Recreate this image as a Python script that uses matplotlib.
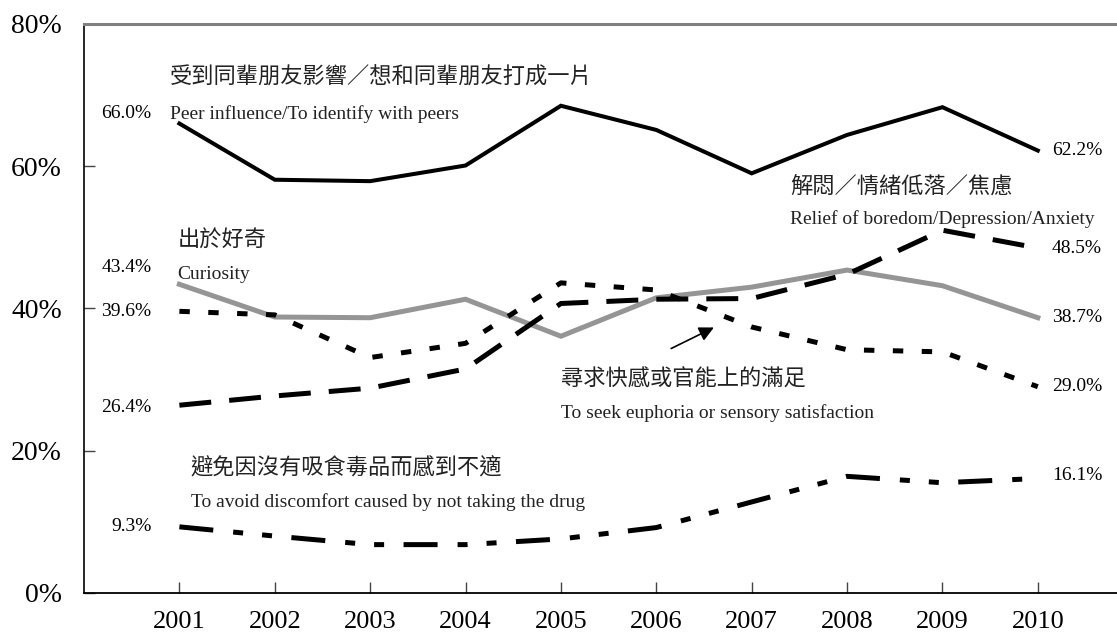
"""drug use motives 2001-2010"""
import matplotlib
matplotlib.use('Agg')
import matplotlib.pyplot as plt

plt.rcParams['font.family'] = ['Liberation Serif', 'Noto Sans CJK TC', 'DejaVu Sans']
plt.rcParams['lines.scale_dashes'] = False

years = [2001, 2002, 2003, 2004, 2005, 2006, 2007, 2008, 2009, 2010]
peer = [66.0, 58.1, 57.9, 60.1, 68.5, 65.1, 59.0, 64.4, 68.3, 62.2]
curiosity = [43.4, 38.8, 38.7, 41.3, 36.1, 41.5, 43.0, 45.4, 43.2, 38.7]
relief = [26.4, 27.7, 28.8, 31.5, 40.7, 41.3, 41.4, 44.8, 51.0, 48.5]
euphoria = [39.6, 39.1, 33.1, 35.1, 43.6, 42.6, 37.4, 34.2, 33.9, 29.0]
avoid = [9.3, 8.0, 6.8, 6.8, 7.6, 9.2, 12.8, 16.4, 15.5, 16.1]

y_ticks = [0, 20, 40, 60, 80]

fig = plt.figure(figsize=(11.17, 6.39), dpi=100)
ax = fig.add_axes([0.0752, 0.0720, 0.9248, 0.8905])

ax.plot(years, peer, color='black', lw=2.9, solid_joinstyle='miter')
ax.plot(years, curiosity, color='#959595', lw=3.6, solid_joinstyle='miter')
ax.plot(years, relief, color='black', lw=3.6, dashes=(23, 13),
        dash_capstyle='butt', dash_joinstyle='miter')
ax.plot(years, euphoria, color='black', lw=3.6, dashes=(7.5, 13.3),
        dash_capstyle='butt')
ax.plot(years, avoid, color='black', lw=3.6,
        dashes=(24.5, 14.4, 7.2, 13.7, 7.2, 14), dash_capstyle='butt')

ax.set_xlim(2000, 2010.83)
ax.set_ylim(0, 80)
ax.set_xticks(years)
ax.set_xticklabels([str(y) for y in years])
ax.set_yticks(y_ticks)
ax.set_yticklabels([f'{v}%' for v in y_ticks])
ax.tick_params(axis='both', direction='in', length=8, width=1,
               color='#444444', labelsize=20)
ax.tick_params(axis='x', pad=13, labelsize=19)
ax.tick_params(axis='y', pad=16)

ax.spines['right'].set_visible(False)
ax.spines['top'].set_color('#808080')
ax.spines['top'].set_linewidth(2.2)
ax.spines['left'].set_linewidth(1.2)
ax.spines['bottom'].set_linewidth(1.3)

series = [peer, curiosity, euphoria, relief, avoid]
start_dy = [7, 12, 0, -2, 0]
end_dy = [0, 0, 0, 0, 2]
for vals, d1, d2 in zip(series, start_dy, end_dy):
    ax.annotate(f'{vals[0]:.1f}%', (years[0], vals[0]), xytext=(-20, d1),
                textcoords='offset points', ha='right', va='center',
                fontsize=14)
    ax.annotate(f'{vals[-1]:.1f}%', (years[-1], vals[-1]), xytext=(10, d2),
                textcoords='offset points', ha='left', va='center',
                fontsize=14)

cn_kw = dict(ha='left', va='center', fontsize=16, color='#222222')
en_kw = dict(ha='left', va='center', fontsize=14, color='#222222')

ax.text(2000.90, 72.4, '受到同輩朋友影響／想和同輩朋友打成一片', **cn_kw)
ax.text(2000.90, 67.3, 'Peer influence/To identify with peers', **en_kw)
ax.text(2007.40, 57.1, '解悶／情緒低落／焦慮', **cn_kw)
ax.text(2007.40, 52.6, 'Relief of boredom/Depression/Anxiety', **en_kw)
ax.text(2000.98, 49.4, '出於好奇', **cn_kw)
ax.text(2000.98, 44.8, 'Curiosity', **en_kw)
ax.text(2005.00, 29.9, '尋求快感或官能上的滿足', **cn_kw)
ax.text(2005.00, 25.3, 'To seek euphoria or sensory satisfaction', **en_kw)
ax.text(2001.12, 17.6, '避免因沒有吸食毒品而感到不適', **cn_kw)
ax.text(2001.12, 12.8, 'To avoid discomfort caused by not taking the drug', **en_kw)

ax.annotate('', xy=(2006.63, 37.5), xytext=(2006.13, 34.2),
            arrowprops=dict(arrowstyle='-|>', color='black', lw=1.2,
                            mutation_scale=22))

fig.savefig('out.png', dpi=100)
